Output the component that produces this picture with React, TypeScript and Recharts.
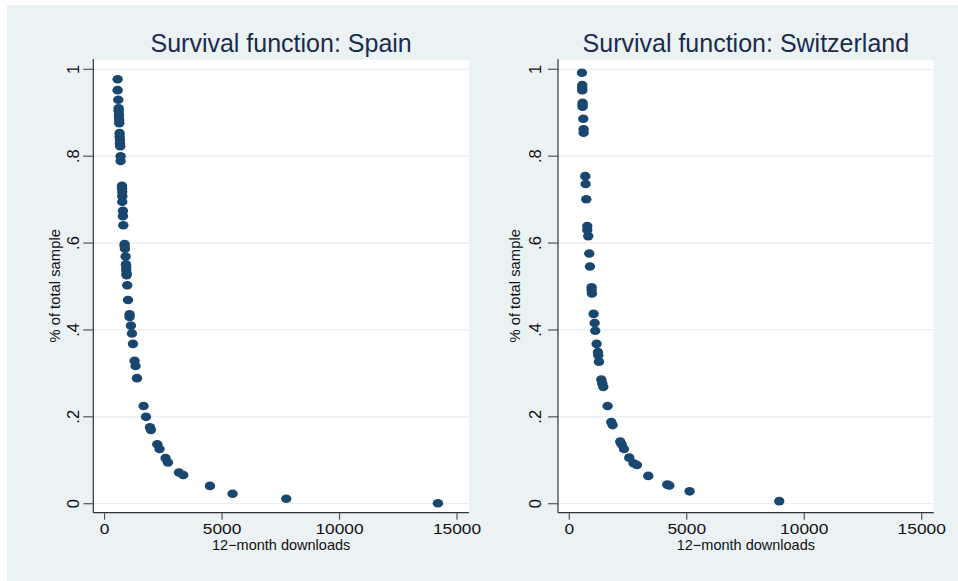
import React from "react";
import { ScatterChart, Scatter, XAxis, YAxis, CartesianGrid } from "recharts";

// Spain: 12-month downloads vs survival share
const spainDownloads = [555, 555, 583, 597, 597, 611, 611, 625, 625, 640, 640, 654, 654, 668, 682, 682, 739, 745, 753, 753, 753, 781, 781, 796, 852, 852, 867, 895, 909, 923, 923, 937, 937, 966, 996, 1064, 1064, 1123, 1166, 1208, 1277, 1319, 1379, 1660, 1762, 1932, 1974, 2243, 2340, 2596, 2698, 3166, 3349, 4485, 5447, 7732, 14187];
const spainSurvival = [0.977, 0.952, 0.93, 0.91, 0.905, 0.897, 0.89, 0.883, 0.876, 0.853, 0.845, 0.838, 0.83, 0.823, 0.8, 0.789, 0.732, 0.726, 0.718, 0.708, 0.695, 0.674, 0.662, 0.641, 0.598, 0.593, 0.587, 0.569, 0.551, 0.545, 0.538, 0.53, 0.526, 0.503, 0.469, 0.436, 0.43, 0.41, 0.392, 0.368, 0.329, 0.317, 0.289, 0.225, 0.2, 0.176, 0.17, 0.137, 0.126, 0.105, 0.095, 0.072, 0.066, 0.041, 0.023, 0.0115, 0.001];

// Switzerland
const swissDownloads = [539, 553, 553, 553, 567, 567, 567, 596, 610, 610, 681, 695, 723, 766, 766, 808, 851, 879, 950, 950, 964, 1035, 1078, 1106, 1163, 1220, 1234, 1262, 1362, 1404, 1447, 1631, 1787, 1844, 2170, 2227, 2326, 2553, 2738, 2879, 3362, 4170, 4260, 5121, 8936];
const swissSurvival = [0.992, 0.964, 0.958, 0.952, 0.923, 0.918, 0.914, 0.886, 0.862, 0.854, 0.754, 0.736, 0.701, 0.639, 0.63, 0.616, 0.576, 0.546, 0.498, 0.492, 0.484, 0.437, 0.416, 0.398, 0.368, 0.349, 0.342, 0.327, 0.286, 0.277, 0.269, 0.225, 0.188, 0.181, 0.143, 0.137, 0.126, 0.106, 0.093, 0.089, 0.064, 0.044, 0.042, 0.0285, 0.006];

const xTicks = [0, 5000, 10000, 15000];
const yTicks = [0, 0.2, 0.4, 0.6, 0.8, 1];
const yTickLabels = ["0", ".2", ".4", ".6", ".8", "1"];
const titles = ["Survival function: Spain", "Survival function: Switzerland"];
const xTitle = "12\u2212month downloads";
const yTitle = "% of total sample";

const FONT = "'Liberation Sans', Arial, Helvetica, sans-serif";
const NAVY = "#1a476f";

const spainData = spainDownloads.map((d, i) => ({ x: d, y: spainSurvival[i] }));
const swissData = swissDownloads.map((d, i) => ({ x: d, y: swissSurvival[i] }));

type PanelProps = {
  left: number;
  width: number;
  plotLeft: number;
  plotRight: number;
  yTickBase: number;
  yLabelBase: number;
  title: string;
  data: { x: number; y: number }[];
};

const PLOT_TOP = 59;
const PLOT_BOTTOM = 512.7;
const H = 581;

function Panel(p: PanelProps) {
  const yTick = (props: any) => {
    const { y, payload } = props;
    const idx = yTicks.indexOf(payload.value);
    return (
      <text
        transform={`translate(${p.yTickBase}, ${y}) rotate(-90)`}
        textAnchor="middle"
        fontSize={16.5}
        fontFamily={FONT}
        fill="#111"
      >
        {idx >= 0 ? yTickLabels[idx] : String(payload.value)}
      </text>
    );
  };
  const xTick = (props: any) => {
    const { x, payload } = props;
    return (
      <text
        transform={`translate(${x}, 533.5) scale(1.12, 1)`}
        textAnchor="middle"
        fontSize={15.5}
        fontFamily={FONT}
        fill="#111"
      >
        {payload.value}
      </text>
    );
  };
  const cx = (p.plotLeft + p.plotRight) / 2;
  return (
    <div style={{ position: "absolute", left: p.left, top: 0, width: p.width, height: H }}>
      <div
        style={{
          position: "absolute",
          left: cx - 250,
          width: 500,
          top: 30.5,
          textAlign: "center",
          fontFamily: FONT,
          fontSize: 25,
          lineHeight: "25px",
          color: "#1c2b4d",
          whiteSpace: "nowrap",
        }}
      >
        {p.title}
      </div>
      <ScatterChart
        width={p.width}
        height={H}
        margin={{ top: PLOT_TOP, right: p.width - p.plotRight, bottom: 0, left: 0 }}
        style={{ position: "absolute", left: 0, top: 0 }}
      >
        <CartesianGrid vertical={false} fill="#ffffff" stroke="#e6eef1" strokeWidth={1.2} />
        <XAxis
          type="number"
          dataKey="x"
          domain={[-480, 15510]}
          allowDataOverflow
          ticks={xTicks}
          interval={0}
          height={H - PLOT_BOTTOM}
          tickSize={7}
          axisLine={{ stroke: "#333", strokeWidth: 1.2 }}
          tickLine={{ stroke: "#555", strokeWidth: 1.2 }}
          tick={xTick}
          label={{
            content: () => (
              <text x={cx} y={550} textAnchor="middle" fontSize={14.5} fontFamily={FONT} fill="#111">
                {xTitle}
              </text>
            ),
          }}
        />
        <YAxis
          type="number"
          dataKey="y"
          domain={[-0.0207, 1.0237]}
          allowDataOverflow
          ticks={yTicks}
          interval={0}
          width={p.plotLeft}
          tickSize={10}
          axisLine={{ stroke: "#333", strokeWidth: 1.2 }}
          tickLine={{ stroke: "#555", strokeWidth: 1.2 }}
          tick={yTick}
          label={{
            content: () => (
              <text
                transform={`translate(${p.yLabelBase}, ${(PLOT_TOP + PLOT_BOTTOM) / 2}) rotate(-90)`}
                textAnchor="middle"
                fontSize={14.8}
                fontFamily={FONT}
                fill="#111"
              >
                {yTitle}
              </text>
            ),
          }}
        />
        <Scatter
          data={p.data}
          isAnimationActive={false}
          shape={(s: any) => <ellipse cx={s.cx} cy={s.cy} rx={5.2} ry={4.3} fill={NAVY} />}
        />
      </ScatterChart>
    </div>
  );
}

export default function App() {
  return (
    <div style={{ position: "absolute", left: 0, top: 0, width: 958, height: 581, background: "#ffffff", overflow: "hidden" }}>
      <div style={{ position: "absolute", left: 7, top: 5, width: 951, height: 576, background: "#eaf2f3" }} />
      <Panel left={0} width={500} plotLeft={93.3} plotRight={469} yTickBase={79} yLabelBase={60} title={titles[0]} data={spainData} />
      <Panel left={478} width={480} plotLeft={80} plotRight={455.7} yTickBase={63} yLabelBase={42} title={titles[1]} data={swissData} />
    </div>
  );
}
